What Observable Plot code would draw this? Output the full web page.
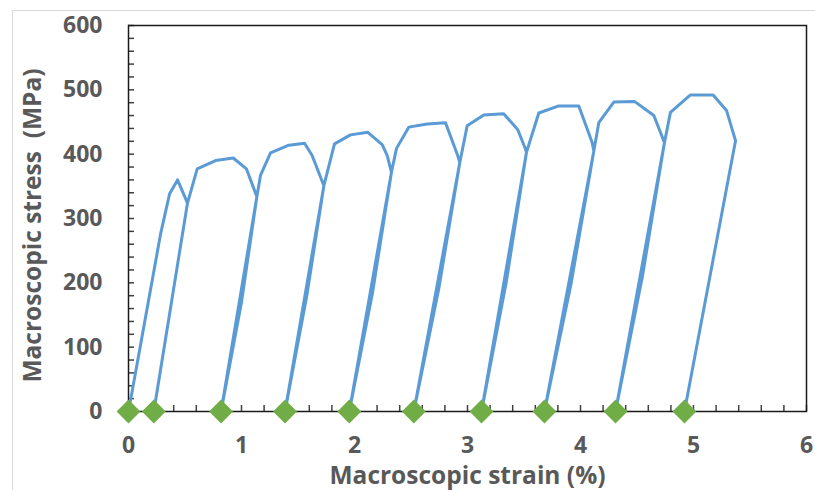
<!DOCTYPE html>
<html><head><meta charset="utf-8">
<script src="https://cdn.jsdelivr.net/npm/d3@7"></script>
<script src="https://cdn.jsdelivr.net/npm/@observablehq/plot@0.6"></script>
<style>
body{margin:0;background:#fff;}
#wrap{position:relative;width:815px;height:490px;overflow:hidden;background:#fff;}
#border{position:absolute;left:12px;top:10px;width:830px;height:510px;border-left:1px solid #d9d9d9;border-top:1px solid #d9d9d9;pointer-events:none;}
#wrap svg{position:absolute;left:0;top:0;}
</style></head><body><div id="wrap"><div id="border"></div></div>
<script>
// Stress–strain path (loading / unloading cycles)
const strain = [0, 0.285, 0.363, 0.434, 0.522, 0.224, 0.522,
  0.608, 0.77, 0.927, 1.044, 1.136, 0.819, 1.0, 1.136,
  1.168, 1.257, 1.419, 1.558, 1.625, 1.729, 1.385, 1.578, 1.729,
  1.823, 1.965, 2.118, 2.245, 2.289, 2.327, 1.954, 2.16, 2.327,
  2.372, 2.48, 2.643, 2.805, 2.909, 2.932, 2.525, 2.745, 2.932,
  2.997, 3.144, 3.32, 3.445, 3.513, 3.522, 3.124, 3.342, 3.522,
  3.631, 3.808, 3.985, 4.103, 4.118, 3.681, 3.918, 4.118,
  4.162, 4.295, 4.478, 4.649, 4.743, 4.31, 4.548, 4.743,
  4.796, 4.973, 5.174, 5.292, 5.372, 4.92];
const stress = [0, 277, 338, 360, 324, 0, 324,
  377, 390, 394, 377, 334, 0, 170, 334,
  367, 402, 414, 417, 398, 351, 0, 180, 351,
  416, 430, 434, 415, 398, 372, 0, 185, 372,
  409, 442, 447, 449, 400, 387, 0, 190, 387,
  444, 461, 463, 438, 408, 403, 0, 200, 403,
  464, 475, 475, 418, 405, 0, 200, 405,
  449, 481, 482, 460, 418, 0, 210, 418,
  465, 492, 492, 468, 421, 0];
// residual strains after each unloading (green diamonds)
const residualStrain = [0, 0.224, 0.819, 1.385, 1.954, 2.525, 3.124, 3.681, 4.31, 4.92];

const xTickLabels = [0, 1, 2, 3, 4, 5, 6];
const yTickLabels = [0, 100, 200, 300, 400, 500, 600];
const xMinorTicks = d3.range(0, 31).map(i => i / 5);
const yMinorTicks = d3.range(0, 31).map(i => i * 20);
const xTitle = "Macroscopic strain (%)";
const yTitle = "Macroscopic stress \u00a0(MPa)";

const W = 815, H = 490, mL = 128, mT = 25, mR = 9, mB = 79;
const curve = strain.map((s, i) => ({strain: s, stress: stress[i]}));
const diamond = {
  draw(ctx, size) {
    const r = Math.sqrt(size / 2);
    ctx.moveTo(0, -r); ctx.lineTo(r, 0); ctx.lineTo(0, r); ctx.lineTo(-r, 0); ctx.closePath();
  }
};

const chart = Plot.plot({
  width: W, height: H,
  marginLeft: mL, marginTop: mT, marginRight: mR, marginBottom: mB,
  x: {domain: [0, 6]},
  y: {domain: [0, 600]},
  style: {fontFamily: "'Open Sans', sans-serif", fontSize: "23px", fontWeight: "700", color: "#595959", background: "transparent"},
  marks: [
    Plot.tickX(xMinorTicks, {x: d => d, insetTop: (H - mT - mB) - 6, stroke: "#404040", strokeWidth: 1.5}),
    Plot.tickY(yMinorTicks, {y: d => d, insetRight: (W - mL - mR) - 6, stroke: "#404040", strokeWidth: 1.5}),
    Plot.frame({stroke: "#1a1a1a", strokeWidth: 1.5}),
    Plot.axisX({ticks: xTickLabels, tickSize: 0, tickPadding: 25, label: null, tickFormat: d => String(d), fill: "#595959", fontSize: 23}),
    Plot.axisY({ticks: yTickLabels, tickSize: 0, tickPadding: 26, label: null, tickFormat: d => String(d), fill: "#595959", fontSize: 23}),
    Plot.line(curve, {x: "strain", y: "stress", stroke: "#5B9BD5", strokeWidth: 3, strokeLinejoin: "round"}),
    Plot.dot(residualStrain, {x: d => d, y: () => 0, symbol: diamond, r: 9.5, fill: "#70AD47", stroke: "none"}),
    Plot.text([xTitle], {text: d => d, frameAnchor: "bottom", textAnchor: "middle", lineAnchor: "middle", dy: 65, fontSize: 24.5, fill: "#595959"}),
    Plot.text([yTitle], {text: d => d, frameAnchor: "left", textAnchor: "middle", lineAnchor: "middle", dx: -95, dy: 7, rotate: -90, fontSize: 24.5, fill: "#595959"})
  ]
});
document.getElementById("wrap").appendChild(chart);
</script>
</body></html>
